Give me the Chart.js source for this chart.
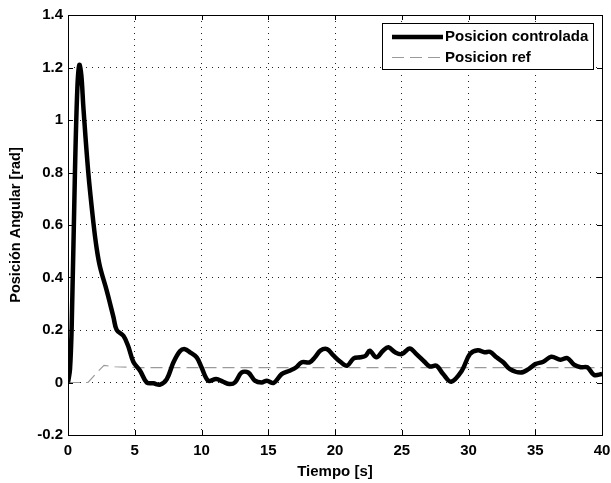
<!DOCTYPE html>
<html>
    <head>
        <meta charset="UTF-8">
        <title>Posicion Angular</title>
        <script src="https://cdn.jsdelivr.net/npm/chart.js"></script>
        <style>
            body { margin: 0; background: #fff; }
            #wrap { width: 611px; height: 483px; position: relative; }
        </style>
    </head>
    <body>
        <div id="wrap"><canvas id="pos_chart_canvas"></canvas></div>

    <script>
//                                                              DATA
//---------------------------------------------------------------------------------------------------------------------------------------------------------
    const series_labels = ['Posicion controlada', 'Posicion ref'];

    // Posicion controlada
    const t_ctrl = [0, 0.15, 0.28, 0.52, 0.7, 0.85, 1.0, 1.15, 1.52, 1.9, 2.15, 2.4, 2.9, 3.4, 3.65, 4.15, 4.5, 4.9, 5.4, 5.9,
                    6.4, 6.9, 7.4, 7.9, 8.4, 8.76, 9.14, 9.64, 10.0, 10.5, 11.1, 11.6, 12.1, 12.5, 13.0, 13.5, 14.0, 14.5, 14.9, 15.4,
                    16.0, 16.6, 17.1, 17.5, 18.1, 18.5, 18.9, 19.4, 19.9, 20.4, 20.9, 21.4, 21.9, 22.3, 22.6, 23.1, 23.6, 24.0, 24.5, 25.0,
                    25.6, 26.1, 26.7, 27.1, 27.6, 28.1, 28.7, 29.5, 30.1, 30.7, 31.2, 31.6, 32.1, 32.6, 33.1, 33.9, 34.5, 35.0, 35.6, 36.2,
                    36.9, 37.4, 37.9, 38.4, 38.9, 39.4, 40];
    const y_ctrl = [0, 0.05, 0.22, 0.80, 1.12, 1.21, 1.17, 1.05, 0.80, 0.61, 0.51, 0.44, 0.35, 0.25, 0.20, 0.178, 0.14, 0.078, 0.045, 0.0,
                    -0.003, -0.008, 0.013, 0.077, 0.12, 0.127, 0.115, 0.096, 0.058, 0.007, 0.013, 0.003, -0.006, 0.0, 0.038, 0.038, 0.007, 0.0, 0.007, -0.002,
                    0.032, 0.045, 0.058, 0.077, 0.077, 0.096, 0.121, 0.127, 0.102, 0.079, 0.064, 0.092, 0.096, 0.102, 0.121, 0.096, 0.121, 0.134, 0.115, 0.108,
                    0.13, 0.108, 0.079, 0.061, 0.064, 0.032, 0.003, 0.045, 0.108, 0.123, 0.115, 0.117, 0.096, 0.077, 0.051, 0.038, 0.051, 0.07, 0.079, 0.098,
                    0.087, 0.093, 0.068, 0.058, 0.058, 0.029, 0.032];

    // Posicion ref
    const t_ref = [0, 1.5, 2.2, 2.7, 3.5, 5, 40];
    const y_ref = [0, 0, 0.04, 0.065, 0.06, 0.057, 0.057];

    const x_ticks = [0, 5, 10, 15, 20, 25, 30, 35, 40];
    const y_ticks = [-0.2, 0, 0.2, 0.4, 0.6, 0.8, 1, 1.2, 1.4];

    const FONT = '"Liberation Sans", Arial, sans-serif';

//                                                              PLUGINS (box, inner ticks, legend)
//---------------------------------------------------------------------------------------------------------------------------------------------------------
    const matlabFrame = {
        id: 'matlabFrame',
        afterDraw(chart) {
            const {ctx, chartArea: a, scales} = chart;
            ctx.save();
            ctx.strokeStyle = '#000';
            ctx.lineWidth = 1;
            ctx.setLineDash([]);
            ctx.beginPath();
            x_ticks.forEach(v => {
                let px = Math.round(scales.x.getPixelForValue(v)) + 0.5;
                ctx.moveTo(px, a.bottom); ctx.lineTo(px, a.bottom - 5);
                ctx.moveTo(px, a.top); ctx.lineTo(px, a.top + 5);
            });
            y_ticks.forEach(v => {
                let py = Math.round(scales.y.getPixelForValue(v)) + 0.5;
                ctx.moveTo(a.left, py); ctx.lineTo(a.left + 5, py);
                ctx.moveTo(a.right, py); ctx.lineTo(a.right - 5, py);
            });
            ctx.stroke();
            ctx.strokeRect(Math.round(a.left) + 0.5, Math.round(a.top) + 0.5, Math.round(a.right - a.left), Math.round(a.bottom - a.top));

            // legend box
            let lx = 382, ly = 23, lw = 211, lh = 46;
            ctx.fillStyle = '#fff';
            ctx.fillRect(lx, ly, lw, lh);
            ctx.strokeRect(lx + 0.5, ly + 0.5, lw, lh);
            ctx.font = 'bold 15px ' + FONT;
            ctx.textBaseline = 'middle';
            chart.data.datasets.forEach((ds, i) => {
                let rowY = ly + 14 + i * 20.5;
                ctx.strokeStyle = ds.borderColor;
                ctx.lineWidth = ds.borderWidth;
                ctx.setLineDash(ds.borderDash || []);
                ctx.beginPath();
                ctx.moveTo(392, rowY); ctx.lineTo(443, rowY);
                ctx.stroke();
                ctx.fillStyle = '#000';
                ctx.fillText(ds.label, 445, rowY);
            });
            ctx.restore();
        }
    };

//                                                              GRAPH
//---------------------------------------------------------------------------------------------------------------------------------------------------------
    const pos_chart = new Chart(document.getElementById('pos_chart_canvas'), {
        type: 'line',
        data: {
            datasets: [
                {
                    label: series_labels[0],
                    data: t_ctrl.map((t, i) => ({x: t, y: y_ctrl[i]})),
                    borderColor: '#000',
                    borderWidth: 4.5,
                    pointRadius: 0,
                    tension: 0.35,
                    fill: false,
                    order: 0,
                },
                {
                    label: series_labels[1],
                    data: t_ref.map((t, i) => ({x: t, y: y_ref[i]})),
                    borderColor: '#9a9a9a',
                    borderWidth: 1.2,
                    borderDash: [12, 6],
                    pointRadius: 0,
                    tension: 0,
                    fill: false,
                    order: 1,
                },
            ],
        },
        options: {
            responsive: true,
            maintainAspectRatio: false,
            animation: false,
            layout: { padding: { left: 0, right: 9, top: 15, bottom: 0 } },
            plugins: { legend: { display: false }, tooltip: { enabled: false } },
            scales: {
                x: {
                    type: 'linear',
                    min: 0, max: 40,
                    afterBuildTicks: s => { s.ticks = x_ticks.map(v => ({value: v})); },
                    afterFit: s => { s.height = 48; s.paddingLeft = 0; s.paddingRight = 0; },
                    grid: { color: '#222', lineWidth: 1, drawTicks: false },
                    border: { display: false, dash: [1, 5] },
                    ticks: { color: '#000', padding: 7, font: { family: FONT, size: 15, weight: 'bold' }, maxRotation: 0 },
                    title: { display: true, text: 'Tiempo [s]', color: '#000', padding: { top: 0, bottom: 2 }, font: { family: FONT, size: 15, weight: 'bold' } },
                },
                y: {
                    min: -0.2, max: 1.4,
                    afterBuildTicks: s => { s.ticks = y_ticks.map(v => ({value: v})); },
                    afterFit: s => { s.width = 68; s.paddingTop = 0; s.paddingBottom = 0; },
                    grid: { color: '#222', lineWidth: 1, drawTicks: false },
                    border: { display: false, dash: [1, 5] },
                    ticks: { color: '#000', padding: 5, font: { family: FONT, size: 15, weight: 'bold' }, callback: v => String(+v.toFixed(1)) },
                    title: { display: true, text: 'Posición Angular [rad]', color: '#000', padding: { top: 7, bottom: 0 }, font: { family: FONT, size: 14.5, weight: 'bold' } },
                },
            },
        },
        plugins: [matlabFrame],
    });
    </script>
    </body>
</html>
